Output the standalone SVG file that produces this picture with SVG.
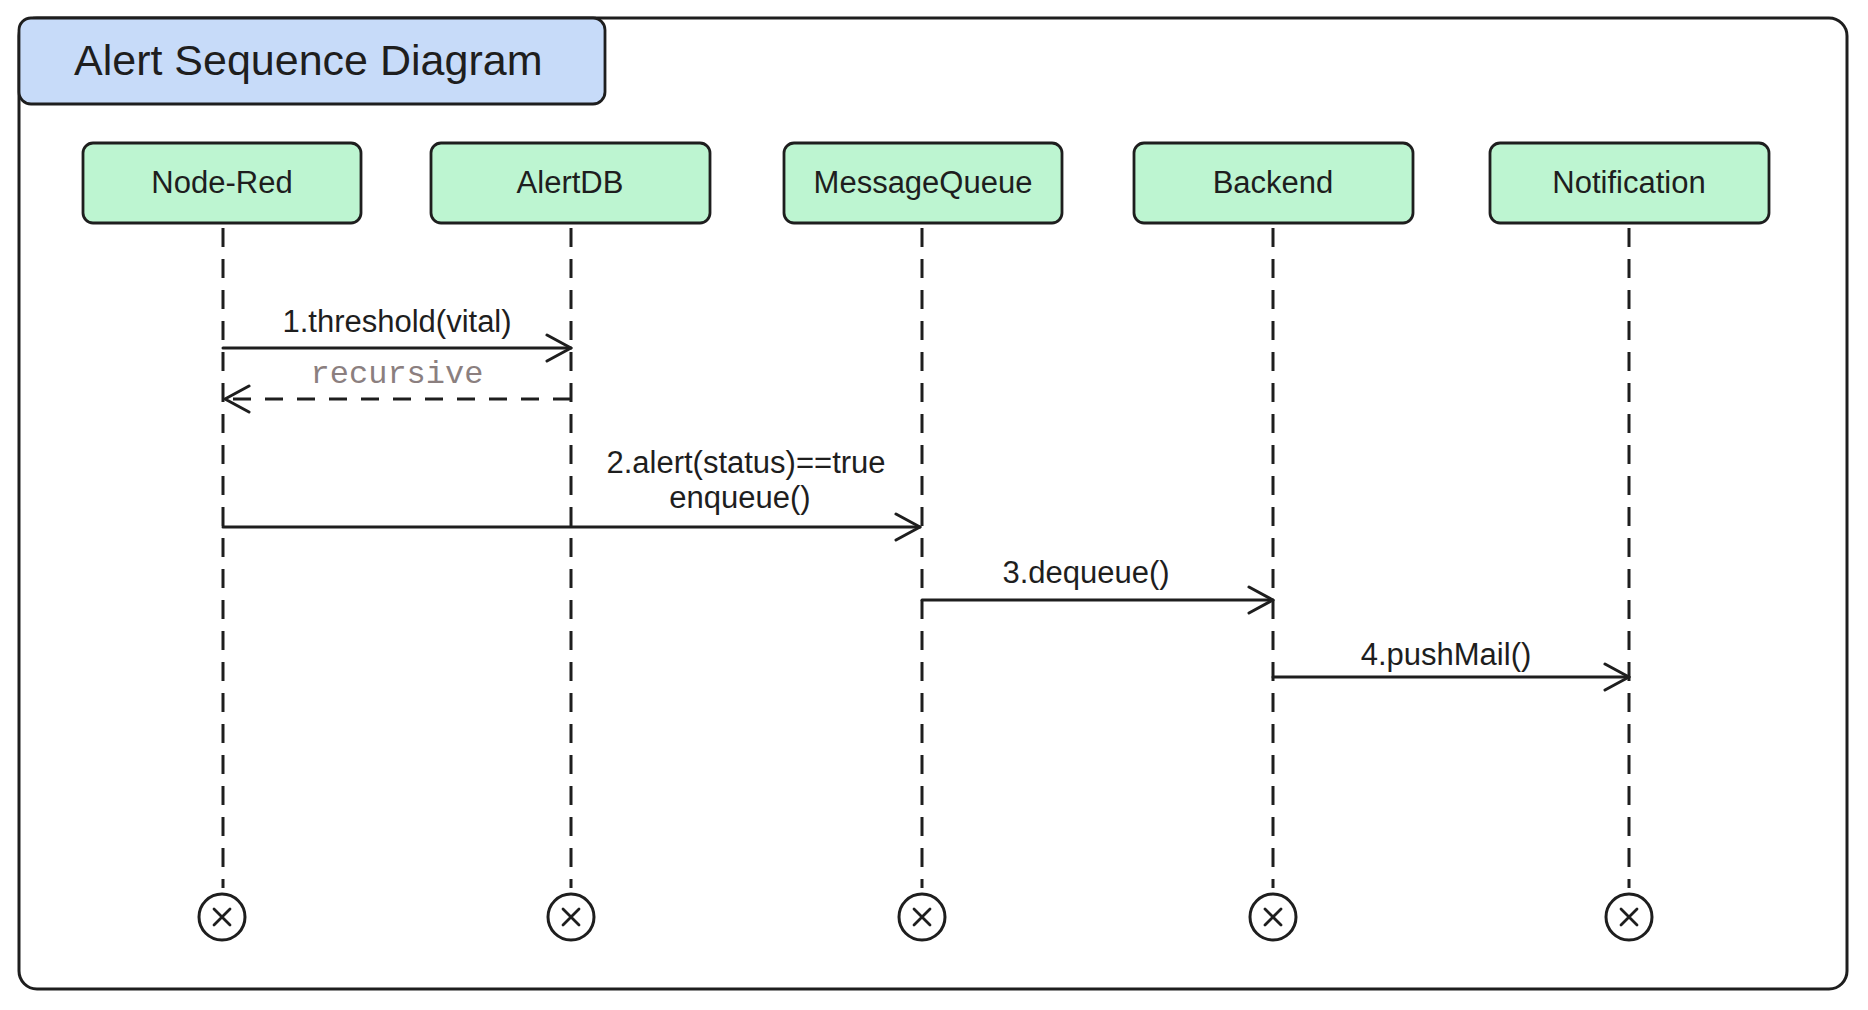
<svg xmlns="http://www.w3.org/2000/svg" width="1868" height="1010" viewBox="0 0 1868 1010">
<defs>
<style>
.frame{fill:#ffffff;stroke:#1e1e1e;stroke-width:3}
.title{fill:#c7dbf9;stroke:#1e1e1e;stroke-width:2.8}
.node{fill:#bdf5d1;stroke:#1e1e1e;stroke-width:2.8}
.lbl{font-family:"Liberation Sans",Arial,sans-serif;font-size:31px;fill:#1e1e1e;text-anchor:middle}
.ttl{font-family:"Liberation Sans",Arial,sans-serif;font-size:43px;fill:#1e1e1e}
.mono{font-family:"Liberation Mono","DejaVu Sans Mono",monospace;font-size:32px;fill:#8b7f7f;text-anchor:middle}
.life{stroke:#1e1e1e;stroke-width:3;stroke-dasharray:19 12;fill:none}
.msg{stroke:#1e1e1e;stroke-width:3;fill:none;stroke-linecap:round;stroke-linejoin:round}
.ret{stroke:#1e1e1e;stroke-width:3;fill:none;stroke-dasharray:18 14}
.end{fill:#ffffff;stroke:#1e1e1e;stroke-width:3}
.x{stroke:#1e1e1e;stroke-width:2.8;stroke-linecap:round}
</style>
<marker id="arr" viewBox="0 0 30 30" refX="26" refY="15" markerWidth="30" markerHeight="30" markerUnits="userSpaceOnUse" orient="auto">
<path d="M2,2 L26,15 L2,28" fill="none" stroke="#1e1e1e" stroke-width="3" stroke-linecap="round" stroke-linejoin="round"/>
</marker>
</defs>
<rect class="frame" x="19" y="18" width="1828" height="971" rx="18"/>
<g id="title">
<rect class="title" x="19" y="18" width="586" height="86" rx="12"/>
<text class="ttl" x="74" y="75">Alert Sequence Diagram</text>
</g>
<g id="node-red">
<rect class="node" x="83" y="143" width="278" height="80" rx="10"/>
<text class="lbl" x="222" y="193">Node-Red</text>
</g>
<g id="alertdb">
<rect class="node" x="431" y="143" width="279" height="80" rx="10"/>
<text class="lbl" x="570" y="193">AlertDB</text>
</g>
<g id="messagequeue">
<rect class="node" x="784" y="143" width="278" height="80" rx="10"/>
<text class="lbl" x="923" y="193">MessageQueue</text>
</g>
<g id="backend">
<rect class="node" x="1134" y="143" width="279" height="80" rx="10"/>
<text class="lbl" x="1273" y="193">Backend</text>
</g>
<g id="notification">
<rect class="node" x="1490" y="143" width="279" height="80" rx="10"/>
<text class="lbl" x="1629" y="193">Notification</text>
</g>
<g id="lifelines">
<line class="life" x1="223" y1="228" x2="223" y2="888"/>
<line class="life" x1="571" y1="228" x2="571" y2="888"/>
<line class="life" x1="922" y1="228" x2="922" y2="888"/>
<line class="life" x1="1273" y1="228" x2="1273" y2="888"/>
<line class="life" x1="1629" y1="228" x2="1629" y2="888"/>
</g>
<g id="ends">
<g id="end-node-red"><circle class="end" cx="222" cy="917" r="23"/><path class="x" d="M214,909 L230,925 M230,909 L214,925"/></g>
<g id="end-alertdb"><circle class="end" cx="571" cy="917" r="23"/><path class="x" d="M563,909 L579,925 M579,909 L563,925"/></g>
<g id="end-messagequeue"><circle class="end" cx="922" cy="917" r="23"/><path class="x" d="M914,909 L930,925 M930,909 L914,925"/></g>
<g id="end-backend"><circle class="end" cx="1273" cy="917" r="23"/><path class="x" d="M1265,909 L1281,925 M1281,909 L1265,925"/></g>
<g id="end-notification"><circle class="end" cx="1629" cy="917" r="23"/><path class="x" d="M1621,909 L1637,925 M1637,909 L1621,925"/></g>
</g>
<g id="connectors">
<line class="msg" x1="223" y1="348" x2="571" y2="348" marker-end="url(#arr)"/>
<text class="lbl" x="397" y="332">1.threshold(vital)</text>
<line class="ret" x1="571" y1="399" x2="225" y2="399" marker-end="url(#arr)"/>
<text class="mono" x="397" y="383">recursive</text>
<line class="msg" x1="223" y1="527" x2="920" y2="527" marker-end="url(#arr)"/>
<text class="lbl" x="746" y="473">2.alert(status)==true</text>
<text class="lbl" x="740" y="508">enqueue()</text>
<line class="msg" x1="922" y1="600" x2="1273" y2="600" marker-end="url(#arr)"/>
<text class="lbl" x="1086" y="583">3.dequeue()</text>
<line class="msg" x1="1273" y1="677" x2="1629" y2="677" marker-end="url(#arr)"/>
<text class="lbl" x="1446" y="665">4.pushMail()</text>
</g>
</svg>
